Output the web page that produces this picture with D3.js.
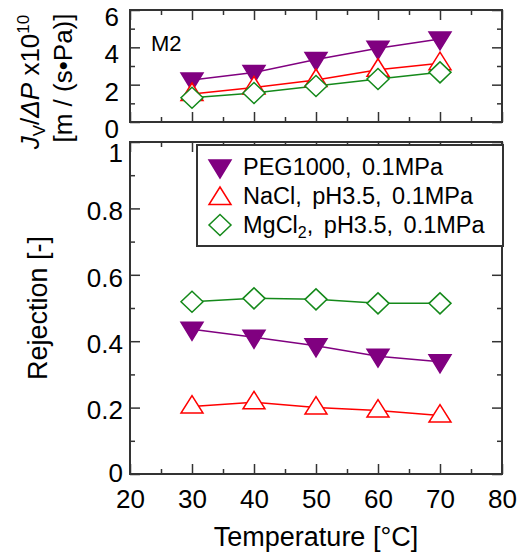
<!DOCTYPE html>
<html><head><meta charset="utf-8">
<script src="https://cdn.jsdelivr.net/npm/d3@7/dist/d3.min.js"></script>
<style>
html,body{margin:0;padding:0;background:#fff;}
svg text{font-family:"Liberation Sans",Arial,sans-serif;fill:#000;}
</style></head>
<body><svg id="c" width="527" height="558"></svg>
<script>
const temps = [30, 40, 50, 60, 70];
const fluxPEG = [2.25, 2.65, 3.35, 3.95, 4.45];
const fluxNaCl = [1.5, 1.85, 2.25, 2.8, 3.15];
const fluxMgCl2 = [1.3, 1.55, 1.93, 2.3, 2.66];
const rejPEG = [0.436, 0.412, 0.386, 0.355, 0.338];
const rejNaCl = [0.203, 0.216, 0.2, 0.191, 0.176];
const rejMgCl2 = [0.519, 0.529, 0.526, 0.514, 0.514];
const xTicks = [20, 30, 40, 50, 60, 70, 80];
const xMinor = [25, 35, 45, 55, 65, 75];
const fluxTicks = [0, 2, 4, 6];
const fluxMinor = [1, 3, 5];
const rejTicks = [0, 0.2, 0.4, 0.6, 0.8, 1];
const rejMinor = [0.1, 0.3, 0.5, 0.7, 0.9];
const legendLabels = ["PEG1000, 0.1MPa", "NaCl, pH3.5, 0.1MPa", "MgCl"];

const svg = d3.select("#c");
const L = 130, R = 502;
const topY0 = 10, topY1 = 122, botY0 = 142, botY1 = 474;
const x = d3.scaleLinear().domain([20, 80]).range([L, R]);
const yT = d3.scaleLinear().domain([0, 6]).range([topY1, topY0]);
const yB = d3.scaleLinear().domain([0, 1]).range([botY1, botY0]);
const axisCol = "#333";

const series = [
  {name: "PEG", col: "#800080", fill: "#800080", shape: "down", flux: fluxPEG, rej: rejPEG},
  {name: "NaCl", col: "#ff0000", fill: "#fff", shape: "up", flux: fluxNaCl, rej: rejNaCl},
  {name: "MgCl2", col: "#14891a", fill: "#fff", shape: "diamond", flux: fluxMgCl2, rej: rejMgCl2}
];
function shapePath(s) {
  if (s === "down") return "M-11,-7L11,-7L0,11Z";
  if (s === "up") return "M-11,6.5L11,6.5L0,-11Z";
  return "M0,-10.5L11,0L0,10.5L-11,0Z";
}

function styleAxis(g) {
  g.select(".domain").remove();
  g.selectAll(".tick line").attr("stroke", axisCol).attr("stroke-width", 1.5);
  g.selectAll(".tick text").attr("fill", "#000").style("font-family", '"Liberation Sans",Arial,sans-serif');
}

function panel(y, ticks, minor, y0, y1, fmt, showX, labelPad, labelShift) {
  const bx = svg.append("g").attr("transform", `translate(0,${y1})`)
    .call(d3.axisBottom(x).tickValues(xTicks).tickSize(-10).tickPadding(16).tickFormat(showX ? d3.format("d") : ""));
  styleAxis(bx); bx.selectAll(".tick text").style("font-size", "26px");
  styleAxis(svg.append("g").attr("transform", `translate(0,${y1})`)
    .call(d3.axisBottom(x).tickValues(xMinor).tickSize(-5).tickFormat("")));
  styleAxis(svg.append("g").attr("transform", `translate(0,${y0})`)
    .call(d3.axisTop(x).tickValues(xTicks).tickSize(-10).tickFormat("")));
  styleAxis(svg.append("g").attr("transform", `translate(0,${y0})`)
    .call(d3.axisTop(x).tickValues(xMinor).tickSize(-5).tickFormat("")));
  const ly = svg.append("g").attr("transform", `translate(${L},0)`)
    .call(d3.axisLeft(y).tickValues(ticks).tickSize(-10).tickPadding(labelPad).tickFormat(fmt));
  styleAxis(ly);
  ly.selectAll(".tick text").style("font-size", "26px").attr("dy", "0.36em")
    .attr("y", d => labelShift(d));
  styleAxis(svg.append("g").attr("transform", `translate(${L},0)`)
    .call(d3.axisLeft(y).tickValues(minor).tickSize(-5).tickFormat("")));
  styleAxis(svg.append("g").attr("transform", `translate(${R},0)`)
    .call(d3.axisRight(y).tickValues(ticks).tickSize(-10).tickFormat("")));
  styleAxis(svg.append("g").attr("transform", `translate(${R},0)`)
    .call(d3.axisRight(y).tickValues(minor).tickSize(-5).tickFormat("")));
  svg.append("rect").attr("x", L).attr("y", y0).attr("width", R - L).attr("height", y1 - y0)
    .attr("fill", "none").attr("stroke", axisCol).attr("stroke-width", 2);
}

panel(yT, fluxTicks, fluxMinor, topY0, topY1, d3.format("d"), false, 11, d => 6);
panel(yB, rejTicks, rejMinor, botY0, botY1,
  v => v === 0 ? "0" : v === 1 ? "1" : d3.format(".1f")(v), true, 7,
  d => d === 1 ? 10 : d === 0 ? -2 : 2);

function drawSeries(key, y) {
  series.forEach(s => {
    const pts = temps.map((t, i) => [x(t), y(s[key][i])]);
    svg.append("path").attr("d", d3.line()(pts)).attr("fill", "none")
      .attr("stroke", s.col).attr("stroke-width", 1.5);
  });
  series.forEach(s => {
    svg.append("g").selectAll("path").data(temps).join("path")
      .attr("transform", (t, i) => `translate(${x(t)},${y(s[key][i])})`)
      .attr("d", shapePath(s.shape)).attr("fill", s.fill)
      .attr("stroke", s.col).attr("stroke-width", 1.5);
  });
}
drawSeries("flux", yT);
drawSeries("rej", yB);

// M2 label
svg.append("text").attr("x", 151).attr("y", 51).style("font-size", "22px").text("M2");

// Legend
const lg = svg.append("g");
lg.append("rect").attr("x", 197).attr("y", 145).attr("width", 306).attr("height", 101)
  .attr("fill", "#fff").attr("stroke", axisCol).attr("stroke-width", 2);
const rowY = [167, 196, 225];
series.forEach((s, i) => {
  lg.append("path").attr("transform", `translate(220,${rowY[i] + (s.shape === "up" ? 2 : 0)})`)
    .attr("d", shapePath(s.shape)).attr("fill", s.fill).attr("stroke", s.col).attr("stroke-width", 1.5);
  const t = lg.append("text").attr("x", 243).attr("y", rowY[i] + 8).style("font-size", "23.5px")
    .style("word-spacing", "4px");
  if (i < 2) t.text(legendLabels[i]);
  else {
    t.append("tspan").text(legendLabels[2]);
    t.append("tspan").attr("dy", 5).style("font-size", "16px").text("2");
    t.append("tspan").attr("dy", -5).text(", pH3.5, 0.1MPa");
  }
});

// axis titles
svg.append("text").attr("x", 316).attr("y", 546).attr("text-anchor", "middle")
  .style("font-size", "27px").text("Temperature [\u00B0C]");
svg.append("text").attr("transform", "translate(47,308) rotate(-90)").attr("text-anchor", "middle")
  .style("font-size", "27px").text("Rejection [-]");
const t1 = svg.append("text").attr("transform", "translate(39,82) rotate(-90)").attr("text-anchor", "middle")
  .style("font-size", "26px");
t1.append("tspan").style("font-style", "italic").text("J");
t1.append("tspan").attr("dy", 6).style("font-size", "17px").text("V");
t1.append("tspan").attr("dy", -6).text("/");
t1.append("tspan").style("font-style", "italic").text("\u0394P");
t1.append("tspan").text(" x10");
t1.append("tspan").attr("dy", -10).style("font-size", "17px").text("10");
svg.append("text").attr("transform", "translate(72,78) rotate(-90)").attr("text-anchor", "middle")
  .style("font-size", "26px").text("[m / (s\u2022Pa)]");
</script></body></html>
